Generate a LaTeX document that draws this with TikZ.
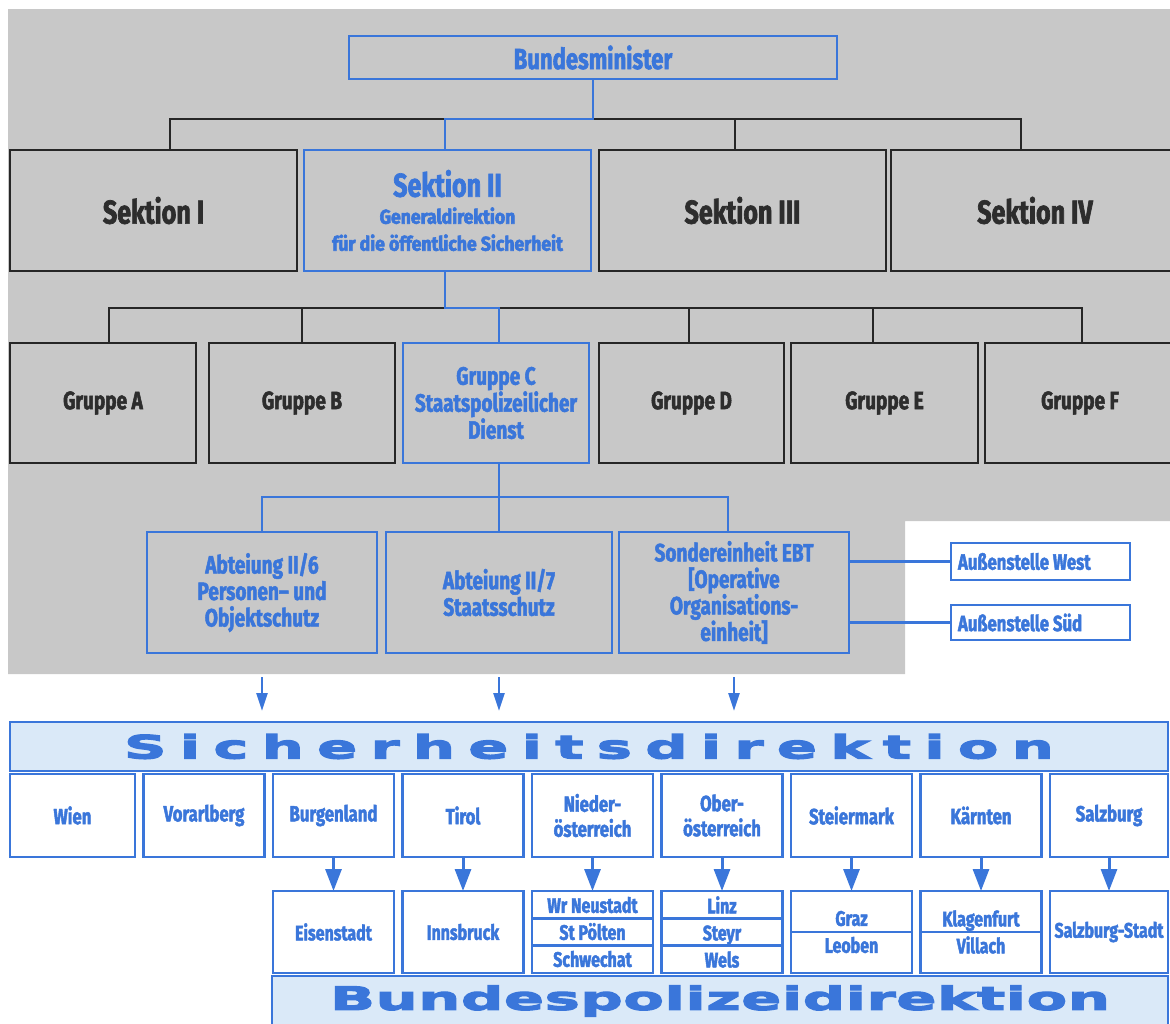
\documentclass[tikz,border=0pt]{standalone}
\usepackage{fontspec}
\usetikzlibrary{arrows.meta,positioning,calc}

\newfontfamily\condfont{Fira Sans}[UprightFont=* Bold, FakeStretch=0.76, FakeBold=2]
\newfontfamily\subfont{Fira Sans}[UprightFont=* Bold, FakeStretch=0.88, FakeBold=3]
\newfontfamily\widefont{DejaVu Sans}[UprightFont=* Bold, FakeStretch=1.85, FakeBold=4]

\definecolor{ocblue}{RGB}{58,118,218}
\definecolor{bannerblue}{RGB}{218,233,248}
\definecolor{bggray}{RGB}{200,200,200}
\definecolor{linegray}{RGB}{38,38,38}
\definecolor{textgray}{RGB}{45,45,45}

% letters of a word spread over a fixed width
\def\spreadrest#1{\ifx#1\relax\else\hfill#1\expandafter\spreadrest\fi}
\def\spreadfirst#1{#1\spreadrest}
\newcommand\spreadword[2]{\makebox[#1][s]{\spreadfirst#2\relax}}

\tikzset{
  bline/.style={draw=linegray, line width=2.8pt},
  uline/.style={draw=ocblue, line width=2.6pt},
  bbox/.style={bline, text=textgray, inner sep=0pt, outer sep=0pt, align=center,
    font=\condfont\fontsize{25}{27}\selectfont},
  ubox/.style={bbox, uline, text=ocblue},
  sek/.style={minimum width=287pt, minimum height=121pt,
    font=\condfont\fontsize{33}{34}\selectfont},
  grp/.style={minimum width=186pt, minimum height=120pt},
  abt/.style={minimum height=121pt, font=\condfont\fontsize{25}{26.5}\selectfont},
  aussen/.style={ubox, minimum width=179pt, font=\condfont\fontsize{22}{24}\selectfont},
  sbox/.style={ubox, fill=white, minimum width=121pt, minimum height=83pt,
    font=\condfont\fontsize{22}{25}\selectfont},
  cbox/.style={sbox, minimum height=82pt, font=\condfont\fontsize{21}{27}\selectfont},
  banner/.style={uline, fill=bannerblue, text=ocblue, inner sep=0pt, outer sep=0pt,
    font=\widefont\fontsize{32}{32}\selectfont},
  uarrow/.style={uline, -{Triangle[length=18pt,width=11pt]}},
  darrow/.style={uline, line width=3pt, -{Triangle[length=22pt,width=16pt]}}
}

\begin{document}
\begin{tikzpicture}[x=1pt,y=-1pt]
  \clip (0,0) rectangle (1170,1023);
  \fill[bggray] (8,9) -- (1175,9) -- (1175,521) -- (905,521) -- (905,674) -- (8,674) -- cycle;

  % ministry and sections
  \node[ubox, minimum width=488pt, minimum height=43pt,
    font=\condfont\fontsize{29}{30}\selectfont] (bm) at (593,57.5) {Bundesminister};
  \node[bbox, sek] (sek1) at (153.5,210.5) {Sektion I};
  \node[ubox, sek, font=\subfont\fontsize{20}{27}\selectfont] (sek2) at (447.5,210.5)
    {{\condfont\fontsize{33}{34}\selectfont Sektion II}\\Generaldirektion\\für die öffentliche Sicherheit};
  \node[bbox, sek] (sek3) at (742.5,210.5) {Sektion III};
  \node[bbox, sek, minimum width=288pt] (sek4) at (1035,210.5) {Sektion IV};

  % groups
  \node[bbox, grp] (grA) at (103,403) {Gruppe A};
  \node[bbox, grp] (grB) at (302,403) {Gruppe B};
  \node[ubox, grp] (grC) at (496,403) {Gruppe C\\Staatspolizeilicher\\Dienst};
  \node[bbox, grp, minimum width=185pt] (grD) at (691.5,403) {Gruppe D};
  \node[bbox, grp, minimum width=187pt] (grE) at (884.5,403) {Gruppe E};
  \node[bbox, grp, minimum width=190pt] (grF) at (1080,403) {Gruppe F};

  % departments
  \node[ubox, abt, minimum width=230pt] (abt6) at (262,592.5) {Abteiung II/6\\Personen– und\\Objektschutz};
  \node[ubox, abt, minimum width=226pt] (abt7) at (499,592.5) {Abteiung II/7\\Staatsschutz};
  \node[ubox, abt, minimum width=230pt] (ebt) at (734,592.5)
    {Sondereinheit EBT\\{}[Operative\\Organisations-\\einheit]};
  \node[aussen, minimum height=37pt] (west) at (1040.5,561.5) {\makebox[165pt][l]{Außenstelle West}};
  \node[aussen, minimum height=35pt] (sued) at (1040.5,622.5) {\makebox[165pt][l]{Außenstelle Süd}};

  % tree lines
  \coordinate (bus1) at (593,119);
  \draw[bline] ([xshift=16.5pt]sek1.north) |- (bus1) -| ([xshift=-14pt]sek4.north);
  \draw[bline] ([xshift=-7.5pt]sek3.north) -- ([xshift=-7.5pt]sek3.north |- bus1);
  \draw[uline] (bm.south) -- (bus1) -| ([xshift=-2.5pt]sek2.north);

  \coordinate (bus2) at (445,308);
  \draw[bline] ([xshift=6pt]grA.north) |- (bus2) -| ([xshift=2pt]grF.north);
  \draw[bline] (grB.north) -- (grB.north |- bus2);
  \draw[bline] ([xshift=-2.5pt]grD.north) -- ([xshift=-2.5pt]grD.north |- bus2);
  \draw[bline] ([xshift=-11.5pt]grE.north) -- ([xshift=-11.5pt]grE.north |- bus2);
  \draw[uline] ([xshift=-2.5pt]sek2.south) -- (bus2) -| ([xshift=3pt]grC.north);

  \coordinate (bus3) at (499,497);
  \draw[uline] ([xshift=3pt]grC.south) -- (bus3);
  \draw[uline] (abt6.north) |- (bus3) -| ([xshift=-6pt]ebt.north);
  \draw[uline] (abt7.north) -- (abt7.north |- bus3);
  \draw[uline] (ebt.east |- west.west) -- (west.west);
  \draw[uline] (ebt.east |- sued.west) -- (sued.west);

  % Sicherheitsdirektion
  \node[banner, minimum width=1158pt, minimum height=49pt] (sd) at (589,746.5)
    {\spreadword{930pt}{Sicherheitsdirektion}};
  \draw[uarrow, shorten <=24pt, shorten >=11pt] (abt6.south) -- (abt6.south |- sd.north);
  \draw[uarrow, shorten <=24pt, shorten >=11pt] (abt7.south) -- (abt7.south |- sd.north);
  \draw[uarrow, shorten <=24pt, shorten >=11pt] (ebt.south) -- (ebt.south |- sd.north);

  \node[sbox, minimum width=125pt] (wien) at (72.5,815.5) {Wien};
  \node[sbox, right=8.5pt of wien] (vbg) {Vorarlberg};
  \node[sbox, right=8.5pt of vbg] (bgld) {Burgenland};
  \node[sbox, right=8.5pt of bgld] (tirol) {Tirol};
  \node[sbox, right=8.5pt of tirol] (noe) {Nieder-\\österreich};
  \node[sbox, right=8.5pt of noe] (ooe) {Ober-\\österreich};
  \node[sbox, right=8.5pt of ooe] (stmk) {Steiermark};
  \node[sbox, right=8.5pt of stmk] (ktn) {Kärnten};
  \node[sbox, minimum width=118pt, right=8.5pt of ktn] (sbg) {Salzburg};

  % Bundespolizeidirektion
  \node[cbox, below=34pt of bgld] (eisen) {Eisenstadt};
  \node[cbox, below=34pt of tirol] (ibk) {Innsbruck};
  \node[cbox, below=34pt of noe] (noec) {Wr Neustadt\\St Pölten\\Schwechat};
  \node[cbox, below=34pt of ooe] (ooec) {Linz\\Steyr\\Wels};
  \node[cbox, below=34pt of stmk] (stmkc) {Graz\\Leoben};
  \node[cbox, below=34pt of ktn] (ktnc) {Klagenfurt\\Villach};
  \node[cbox, minimum width=118pt, below=34pt of sbg] (sbgc) {Salzburg-Stadt};

  \draw[uline] ($(noec.north west)!1/3!(noec.south west)$) -- ($(noec.north east)!1/3!(noec.south east)$);
  \draw[uline] ($(noec.north west)!2/3!(noec.south west)$) -- ($(noec.north east)!2/3!(noec.south east)$);
  \draw[uline] ($(ooec.north west)!1/3!(ooec.south west)$) -- ($(ooec.north east)!1/3!(ooec.south east)$);
  \draw[uline] ($(ooec.north west)!2/3!(ooec.south west)$) -- ($(ooec.north east)!2/3!(ooec.south east)$);
  \draw[uline] (stmkc.west) -- (stmkc.east);
  \draw[uline] (ktnc.west) -- (ktnc.east);

  \draw[darrow] (bgld.south) -- (eisen.north);
  \draw[darrow] (tirol.south) -- (ibk.north);
  \draw[darrow] (noe.south) -- (noec.north);
  \draw[darrow] (ooe.south) -- (ooec.north);
  \draw[darrow] (stmk.south) -- (stmkc.north);
  \draw[darrow] (ktn.south) -- (ktnc.north);
  \draw[darrow] (sbg.south) -- (sbgc.north);

  \node[banner, anchor=north west, minimum width=896pt, minimum height=50pt] (bpd) at (272,976)
    {\spreadword{780pt}{Bundespolizeidirektion}};
\end{tikzpicture}
\end{document}
